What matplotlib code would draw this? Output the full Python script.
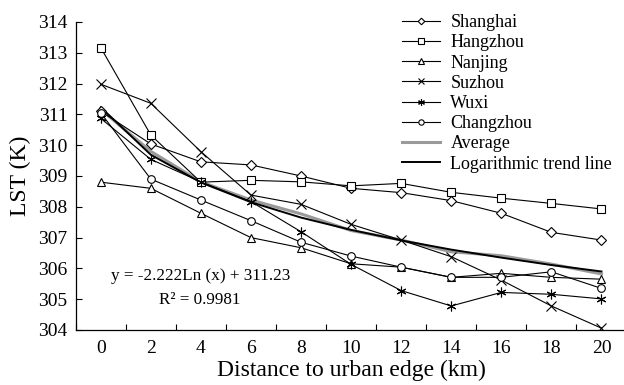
import matplotlib
matplotlib.use("Agg")
import matplotlib.pyplot as plt
import numpy as np

distance = [0, 2, 4, 6, 8, 10, 12, 14, 16, 18, 20]
shanghai = [311.10, 310.04, 309.46, 309.36, 309.00, 308.60, 308.46, 308.20, 307.79, 307.17, 306.92]
hangzhou = [313.17, 310.33, 308.80, 308.86, 308.81, 308.68, 308.76, 308.47, 308.28, 308.11, 307.93]
nanjing = [308.80, 308.60, 307.79, 307.00, 306.67, 306.15, 306.04, 305.71, 305.84, 305.71, 305.65]
suzhou = [311.98, 311.36, 309.79, 308.38, 308.08, 307.43, 306.92, 306.38, 305.62, 304.78, 304.06]
wuxi = [310.87, 309.54, 308.81, 308.17, 307.19, 306.13, 305.28, 304.78, 305.22, 305.16, 305.01]
changzhou = [311.05, 308.90, 308.22, 307.55, 306.85, 306.40, 306.04, 305.71, 305.71, 305.89, 305.35]
average = [311.16, 309.80, 308.81, 308.22, 307.77, 307.23, 306.92, 306.54, 306.41, 306.14, 305.82]
trend = [311.23, 309.69, 308.79, 308.15, 307.65, 307.25, 306.91, 306.61, 306.35, 306.11, 305.90]
y_ticks = [304, 305, 306, 307, 308, 309, 310, 311, 312, 313, 314]
equation_text = "y = -2.222Ln (x) + 311.23"
r2_text = "R\u00b2 = 0.9981"

plt.rcParams['font.family'] = ['Liberation Serif', 'DejaVu Serif']

W, H = 624, 385
fig = plt.figure(figsize=(W / 100, H / 100), dpi=100)
left, right, bottom, top = 75.7, 626.5, 330, 22
ax = fig.add_axes([left / W, 1 - bottom / H, (right - left) / W, (bottom - top) / H])

lw = 0.8
ms = 5.5
common = dict(color='black', lw=lw, markerfacecolor='white', markeredgecolor='black',
              markeredgewidth=0.8, markersize=ms)
ax.plot(distance, average, color='#9a9a9a', lw=2.2, label='Average', zorder=2)
ax.plot(distance, trend, color='black', lw=1.4, label='Logarithmic trend line', zorder=3)
ax.plot(distance, shanghai, marker='D', label='Shanghai', zorder=4, **{**common, 'markersize': 4.8})
ax.plot(distance, hangzhou, marker='s', label='Hangzhou', zorder=4, **common)
ax.plot(distance, nanjing, marker='^', label='Nanjing', zorder=4, **common)
ax.plot(distance, suzhou, marker='x', label='Suzhou', zorder=4, **{**common, 'markersize': 7})
ax.plot(distance, wuxi, marker=(6, 2, 0), label='Wuxi', zorder=4, **{**common, 'markersize': 7})
ax.plot(distance, changzhou, marker='o', label='Changzhou', zorder=4, **common)

ax.set_xlim(-1, 21)
ax.set_ylim(304, 314)
ax.set_yticks(y_ticks)
ax.set_xticks(distance)
ax.set_xticks(np.arange(-1, 22, 2), minor=True)
ax.tick_params(axis='x', which='major', length=0, pad=7, labelsize=14)
ax.tick_params(axis='x', which='minor', length=4, direction='in', width=0.8)
ax.tick_params(axis='y', which='major', length=4, direction='in', width=0.8, pad=6, labelsize=14)
for s in ['top', 'right']:
    ax.spines[s].set_visible(False)
for s in ['left', 'bottom']:
    ax.spines[s].set_linewidth(0.9)

ax.set_xlabel('Distance to urban edge (km)', fontsize=17, labelpad=2)
ax.set_ylabel('LST (K)', fontsize=17, labelpad=5)

ax.text(200.8 / W, 1 - 276 / H, equation_text, transform=fig.transFigure,
        ha='center', va='center', fontsize=12.3)
ax.text(200 / W, 1 - 300 / H, r2_text, transform=fig.transFigure,
        ha='center', va='center', fontsize=12.3)

handles, labels = ax.get_legend_handles_labels()
order = ['Shanghai', 'Hangzhou', 'Nanjing', 'Suzhou', 'Wuxi', 'Changzhou', 'Average',
         'Logarithmic trend line']
hd = dict(zip(labels, handles))
leg = fig.legend([hd[k] for k in order], order, loc='upper left',
                 bbox_to_anchor=(401.7 / W, 1 - 14 / H), frameon=False,
                 borderpad=0, borderaxespad=0, fontsize=13, labelspacing=0.18,
                 handlelength=2.1, handletextpad=0.6, markerscale=0.7)

fig.savefig('out.png', dpi=100)
